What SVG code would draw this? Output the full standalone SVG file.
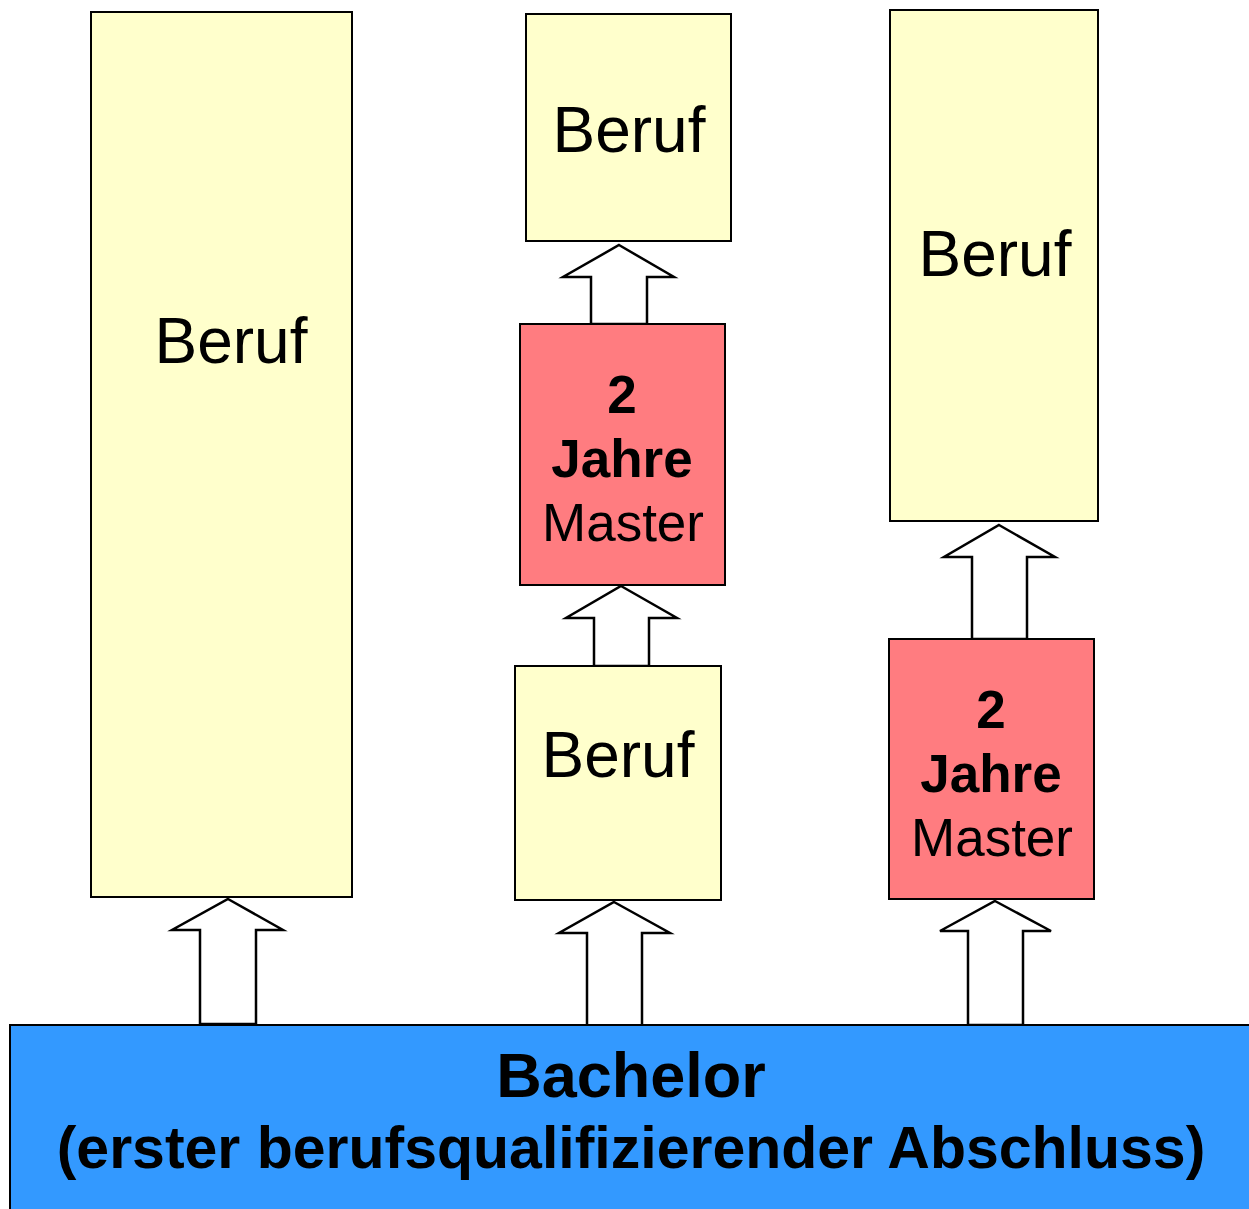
<svg xmlns="http://www.w3.org/2000/svg" width="1249" height="1209" viewBox="0 0 1249 1209">
  <style>
    .beruf { fill: #FFFFCC; stroke: #000; stroke-width: 2; }
    .master { fill: #FF7C80; stroke: #000; stroke-width: 2; }
    .bachelor { fill: #3399FF; stroke: #000; stroke-width: 2; }
    .arrow { fill: #FFFFFF; stroke: #000; stroke-width: 2.5; stroke-linejoin: miter; }
    text { font-family: "Liberation Sans", Arial, sans-serif; fill: #000; text-anchor: middle; }
    .big { font-size: 64px; }
    .mid { font-size: 53px; }
    .bold { font-weight: bold; }
    .bach1 { font-size: 63px; font-weight: bold; }
    .bach2 { font-size: 59px; font-weight: bold; }
  </style>
  <rect width="1249" height="1209" fill="#FFFFFF"/>

  <!-- connectors: hollow block arrows -->
  <g id="connectors">
    <polygon class="arrow" points="228,899 283,930 256,930 256,1024 200,1024 200,930 172,930"/>
    <polygon class="arrow" points="614,902 670,933 642,933 642,1026 587,1026 587,933 559,933"/>
    <polygon class="arrow" points="995,901 1051,931 1023,931 1023,1025 968,1025 968,931 940,931"/>
    <polygon class="arrow" points="621,586 677,618 649,618 649,666 594,666 594,618 566,618"/>
    <polygon class="arrow" points="619,245 674,277 647,277 647,324 591,324 591,277 563,277"/>
    <polygon class="arrow" points="999,525 1055,557 1027,557 1027,639 972,639 972,557 944,557"/>
  </g>

  <!-- column 1 -->
  <g id="beruf-1">
    <rect class="beruf" x="91" y="12" width="261" height="885"/>
    <text class="big" x="231" y="363">Beruf</text>
  </g>

  <!-- column 2 -->
  <g id="beruf-2a">
    <rect class="beruf" x="515" y="666" width="206" height="234"/>
    <text class="big" x="618" y="777">Beruf</text>
  </g>
  <g id="master-2">
    <rect class="master" x="520" y="324" width="205" height="261"/>
    <text class="mid bold" x="622" y="413">2</text>
    <text class="mid bold" x="622" y="477">Jahre</text>
    <text class="mid" x="623" y="541">Master</text>
  </g>
  <g id="beruf-2b">
    <rect class="beruf" x="526" y="14" width="205" height="227"/>
    <text class="big" x="629" y="152">Beruf</text>
  </g>

  <!-- column 3 -->
  <g id="master-3">
    <rect class="master" x="889" y="639" width="205" height="260"/>
    <text class="mid bold" x="991" y="728">2</text>
    <text class="mid bold" x="991" y="792">Jahre</text>
    <text class="mid" x="992" y="856">Master</text>
  </g>
  <g id="beruf-3">
    <rect class="beruf" x="890" y="10" width="208" height="511"/>
    <text class="big" x="995" y="276">Beruf</text>
  </g>

  <!-- base -->
  <g id="bachelor">
    <rect class="bachelor" x="10" y="1025" width="1250" height="200"/>
    <text class="bach1" x="631" y="1097">Bachelor</text>
    <text class="bach2" x="631" y="1168">(erster berufsqualifizierender Abschluss)</text>
  </g>
</svg>
